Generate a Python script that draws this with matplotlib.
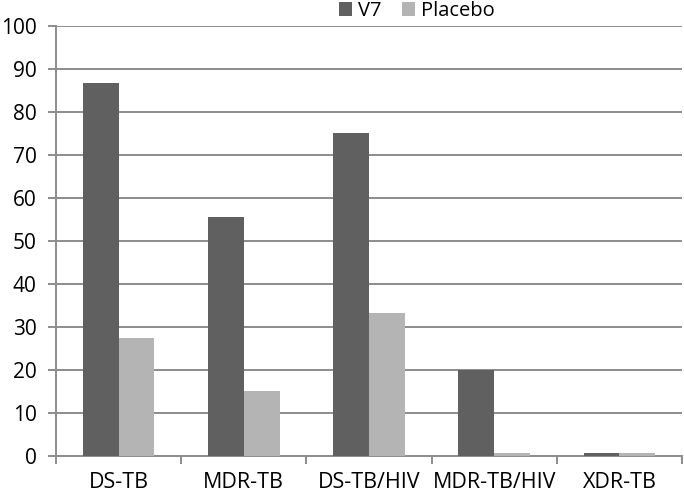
import matplotlib
matplotlib.use("Agg")
import matplotlib.pyplot as plt
import numpy as np
from matplotlib.patches import Patch

categories = ['DS-TB', 'MDR-TB', 'DS-TB/HIV', 'MDR-TB/HIV', 'XDR-TB']
v7 = [86.7, 55.6, 75.0, 20.0, 0.6]
placebo = [27.3, 15.0, 33.3, 0.6, 0.6]
series_names = ['V7', 'Placebo']
yticks = list(range(0, 101, 10))

plt.rcParams['font.family'] = ['Open Sans', 'DejaVu Sans']

DARK = '#606060'
LIGHT = '#b4b4b4'
GRID = '#8c8c8c'

fig = plt.figure(figsize=(6.84, 4.96), dpi=100)
ax = fig.add_axes([56/684, 40.3/496, (682-56)/684, (455.7-25.7)/496])

x = np.arange(len(categories))
w = 1/3.5
ax.bar(x - w/2, v7, width=w, color=DARK, zorder=3)
ax.bar(x + w/2, placebo, width=w, color=LIGHT, zorder=3)

ax.set_xlim(-0.5, len(categories) - 0.5)
ax.set_ylim(0, 100)
ax.set_yticks(yticks)
ax.set_yticklabels([str(t) for t in yticks], fontsize=15)
ax.yaxis.grid(True, color=GRID, linewidth=1.4, zorder=0)
ax.set_axisbelow(True)

ax.set_xticks(x)
ax.set_xticklabels(categories, fontsize=15.5)
ax.tick_params(axis='x', which='major', length=0, pad=12)
ax.set_xticks(np.arange(-0.5, len(categories), 1.0), minor=True)
ax.tick_params(axis='x', which='minor', length=6, width=1.4, color=GRID)
ax.tick_params(axis='y', length=6, width=1.4, color=GRID, pad=8)

for s in ['top', 'right']:
    ax.spines[s].set_visible(False)
for s in ['left', 'bottom']:
    ax.spines[s].set_color(GRID)
    ax.spines[s].set_linewidth(1.4)

handles = [Patch(facecolor=DARK, edgecolor='none'), Patch(facecolor=LIGHT, edgecolor='none')]
fig.legend(handles, series_names, loc='center', bbox_to_anchor=(417/684, 1 - 11/496),
           ncol=2, frameon=False, fontsize=14.5, handlelength=0.65, handleheight=0.65,
           handletextpad=0.3, columnspacing=1.0, borderpad=0, borderaxespad=0)

fig.savefig('out.png', dpi=100)
